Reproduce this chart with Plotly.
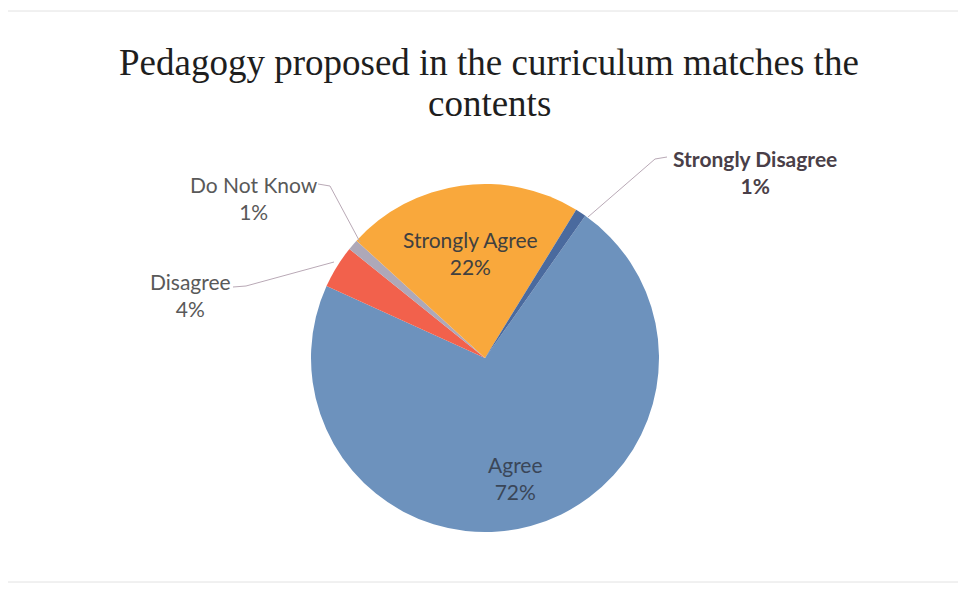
import plotly.graph_objects as go

W, H = 966, 592

categories = ["Agree", "Disagree", "Do Not Know", "Strongly Agree", "Strongly Disagree"]
percent_values = [72, 4, 1, 22, 1]
slice_colors = ["#6d92bd", "#f2614c", "#aea8b8", "#f9a83c", "#4a6a9e"]

title_lines = ["Pedagogy proposed in the curriculum matches the", "contents"]

OFF = 8  # page body margin

def px(x):
    return (x - OFF) / W

def py(y):
    return 1 - (y - OFF) / H

cx, cy, r = 485, 358, 174

fig = go.Figure()
fig.add_trace(go.Pie(
    labels=categories,
    values=percent_values,
    sort=False,
    direction="clockwise",
    rotation=35.2,
    marker=dict(colors=slice_colors, line=dict(width=0)),
    textinfo="none",
    hoverinfo="label+percent",
    showlegend=False,
    domain=dict(x=[px(cx - r), px(cx + r)], y=[py(cy + r), py(cy - r)]),
))

label_pos = {
    "Agree": (516, 478),
    "Disagree": (190, 295),
    "Do Not Know": (254, 198),
    "Strongly Agree": (470, 253),
    "Strongly Disagree": (755, 172),
}
label_color = {
    "Agree": "#3a4658",
    "Disagree": "#595959",
    "Do Not Know": "#595959",
    "Strongly Agree": "#404040",
    "Strongly Disagree": "#4a3f48",
}
annotations = []
for cat, val in zip(categories, percent_values):
    x, y = label_pos[cat]
    txt = f"{cat}<br>{val}%"
    if cat == "Strongly Disagree":
        txt = f"<b>{cat}</b><br><b>{val}%</b>"
    annotations.append(dict(
        x=px(x), y=py(y), xref="paper", yref="paper",
        text=txt, showarrow=False,
        font=dict(family="Lato, Open Sans, sans-serif", size=21, color=label_color[cat]),
        align="center", xanchor="center", yanchor="middle",
    ))

for line, ty in zip(title_lines, [62, 103]):
    annotations.append(dict(
        x=px(489), y=py(ty), xref="paper", yref="paper",
        text=line, showarrow=False,
        font=dict(family="Liberation Serif, Times New Roman, serif", size=37, color="#1e1e1e"),
        xanchor="center", yanchor="middle",
    ))

leaders = [
    [(318, 184), (330, 186), (360, 242)],   # Do Not Know
    [(233, 287), (246, 286), (334, 262)],   # Disagree
    [(667, 157), (655, 159), (588, 217)],   # Strongly Disagree
]
shapes = []
for path in leaders:
    d = "M " + " L ".join(f"{px(x)},{py(y)}" for x, y in path)
    shapes.append(dict(type="path", path=d, xref="paper", yref="paper",
                       line=dict(color="#b9a9b6", width=1)))
shapes.append(dict(type="rect", xref="paper", yref="paper",
                   x0=px(2), x1=px(963), y0=py(582), y1=py(11),
                   line=dict(color="#e2e2e2", width=1)))

fig.update_layout(
    width=W, height=H,
    margin=dict(l=0, r=0, t=0, b=0),
    paper_bgcolor="white",
    plot_bgcolor="white",
    annotations=annotations,
    shapes=shapes,
)

fig.write_html("out.html")
